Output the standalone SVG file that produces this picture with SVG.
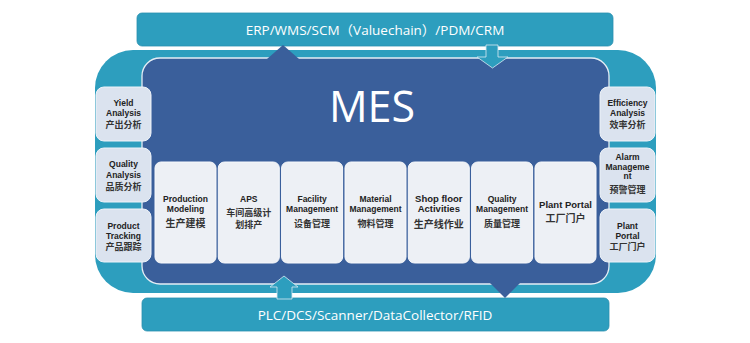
<svg xmlns="http://www.w3.org/2000/svg" width="750" height="343" viewBox="0 0 750 343">
<style>
.teal{fill:#2d9ebe}
.bar{fill:#2d9ebe;stroke:#2a8fae;stroke-width:0.8}
.inner{fill:#3a5f9b;stroke:#e4edf5;stroke-width:1.3}
.side{fill:#dbe3ef;stroke:#eef3f9;stroke-width:1}
.mod{fill:#edf0f5;stroke:#f7f9fc;stroke-width:1}
.en{font-family:"Liberation Sans",Arial,sans-serif;font-weight:bold;font-size:8.5px;fill:#222;text-anchor:middle}
.enl{font-family:"Liberation Sans",Arial,sans-serif;font-weight:bold;font-size:9.5px;fill:#222;text-anchor:middle}
.zh{font-family:"Noto Sans CJK SC",sans-serif;font-weight:bold;font-size:9px;fill:#333;text-anchor:middle}
.zhl{font-family:"Noto Sans CJK SC",sans-serif;font-weight:bold;font-size:10px;fill:#333;text-anchor:middle}
.wt{font-family:"Open Sans","Noto Sans CJK SC",sans-serif;font-size:13.5px;fill:#fff;text-anchor:middle}
.arrT{fill:#2d9ebe;stroke:#d8eaf2;stroke-width:0.8}
.arrB{fill:#3a5f9b}
</style>
<rect width="750" height="343" fill="#fff"/>
<g id="outer-frame">
<rect class="teal" x="95" y="50" width="561" height="243" rx="38" ry="38"/>
<rect class="inner" x="142" y="58" width="467" height="226" rx="18" ry="18"/>
</g>
<g id="top-bar">
<rect class="bar" x="137" y="13" width="476" height="33" rx="5" ry="5"/>
<text class="wt" x="375" y="35">ERP/WMS/SCM（Valuechain）/PDM/CRM</text>
</g>
<g id="bottom-bar">
<rect class="bar" x="142" y="298" width="467" height="33" rx="5" ry="5"/>
<text class="wt" x="375" y="320">PLC/DCS/Scanner/DataCollector/RFID</text>
</g>
<g id="connectors">
<polygon class="arrB" points="267,59 283,45 299,59"/>
<polygon class="arrT" points="486,45 498,45 498,57 508,57 492.5,68 477,57 486,57"/>
<polygon class="arrT" points="284,276 298,287 292,287 292,299 277,299 277,287 270,287"/>
<polygon class="arrB" points="490,283 520,283 505,298"/>
</g>
<g id="mes-title">
<text x="372" y="122" font-family="'Open Sans','Liberation Sans',sans-serif" font-size="43" fill="#fff" text-anchor="middle">MES</text>
</g>
<g id="yield-analysis">
<rect class="side" x="96" y="87" width="55" height="54" rx="8"/>
<text class="en" x="123.5" y="106">Yield</text>
<text class="en" x="123.5" y="116">Analysis</text>
<text class="zh" x="123.5" y="127.5">产出分析</text>
</g>
<g id="quality-analysis">
<rect class="side" x="96" y="148" width="55" height="54" rx="8"/>
<text class="en" x="123.5" y="167">Quality</text>
<text class="en" x="123.5" y="178">Analysis</text>
<text class="zh" x="123.5" y="189.5">品质分析</text>
</g>
<g id="product-tracking">
<rect class="side" x="96" y="209" width="55" height="53" rx="8"/>
<text class="en" x="123.5" y="229">Product</text>
<text class="en" x="123.5" y="239">Tracking</text>
<text class="zh" x="123.5" y="249.5">产品跟踪</text>
</g>
<g id="efficiency-analysis">
<rect class="side" x="600" y="87" width="55" height="54" rx="8"/>
<text class="en" x="627.5" y="106">Efficiency</text>
<text class="en" x="627.5" y="116">Analysis</text>
<text class="zh" x="627.5" y="127.5">效率分析</text>
</g>
<g id="alarm-management">
<rect class="side" x="600" y="148" width="55" height="54" rx="8"/>
<text class="en" x="627.5" y="160">Alarm</text>
<text class="en" x="627.5" y="169.5">Manageme</text>
<text class="en" x="627.5" y="178.5">nt</text>
<text class="zh" x="627.5" y="192.5">预警管理</text>
</g>
<g id="plant-portal-side">
<rect class="side" x="600" y="209" width="55" height="53" rx="8"/>
<text class="en" x="627.5" y="229">Plant</text>
<text class="en" x="627.5" y="239">Portal</text>
<text class="zh" x="627.5" y="249.5">工厂门户</text>
</g>
<g id="production-modeling">
<rect class="mod" x="155" y="162" width="61" height="101" rx="6"/>
<text class="en" x="185.5" y="202">Production</text>
<text class="en" x="185.5" y="212">Modeling</text>
<text class="zhl" x="185.5" y="226.5">生产建模</text>
</g>
<g id="aps">
<rect class="mod" x="218.3" y="162" width="61" height="101" rx="6"/>
<text class="en" x="248.8" y="202">APS</text>
<text class="zh" x="248.8" y="216">车间高级计</text>
<text class="zh" x="248.8" y="227.5">划排产</text>
</g>
<g id="facility-management">
<rect class="mod" x="281.6" y="162" width="61" height="101" rx="6"/>
<text class="en" x="312.1" y="202">Facility</text>
<text class="en" x="312.1" y="212">Management</text>
<text class="zh" x="312.1" y="226.5">设备管理</text>
</g>
<g id="material-management">
<rect class="mod" x="345" y="162" width="61" height="101" rx="6"/>
<text class="en" x="375.5" y="202">Material</text>
<text class="en" x="375.5" y="212">Management</text>
<text class="zh" x="375.5" y="226.5">物料管理</text>
</g>
<g id="shop-floor-activities">
<rect class="mod" x="408.3" y="162" width="61" height="101" rx="6"/>
<text class="enl" x="438.8" y="201.5">Shop floor</text>
<text class="enl" x="438.8" y="212">Activities</text>
<text class="zhl" x="438.8" y="227.5">生产线作业</text>
</g>
<g id="quality-management">
<rect class="mod" x="471.6" y="162" width="61" height="101" rx="6"/>
<text class="en" x="502.1" y="202">Quality</text>
<text class="en" x="502.1" y="212">Management</text>
<text class="zh" x="502.1" y="226.5">质量管理</text>
</g>
<g id="plant-portal">
<rect class="mod" x="535" y="162" width="61" height="101" rx="6"/>
<text class="enl" x="565.5" y="207.5">Plant Portal</text>
<text class="zhl" x="565.5" y="221.5">工厂门户</text>
</g>
</svg>
